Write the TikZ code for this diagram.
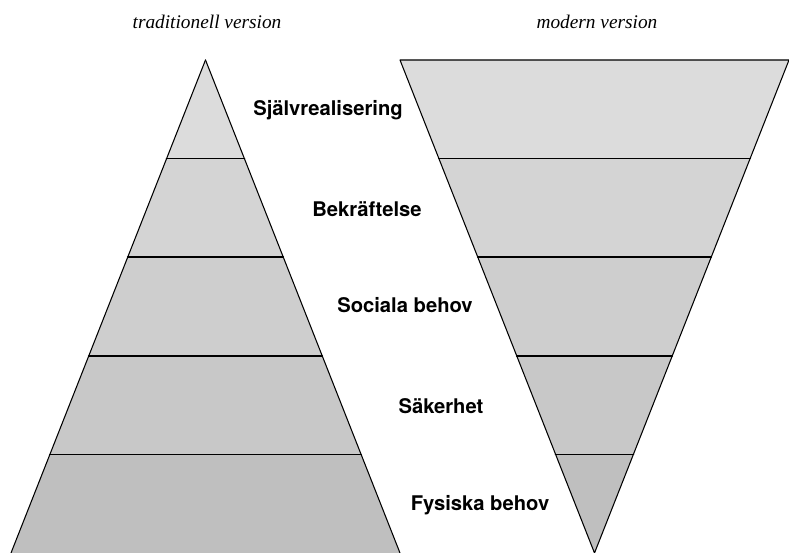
\documentclass[tikz,border=0pt]{standalone}
\usepackage{fontspec}
\usepackage{tkz-euclide}
\usepackage{tikz}
\usepackage{amsmath}
\newfontfamily\labelfont{TeX Gyre Heros}
\newfontfamily\titlefont{Liberation Serif}
\definecolor{bandA}{HTML}{BFBFBF}
\definecolor{bandB}{HTML}{C8C8C8}
\definecolor{bandC}{HTML}{CECECE}
\definecolor{bandD}{HTML}{D4D4D4}
\definecolor{bandE}{HTML}{DCDCDC}
\tikzset{behov/.style={font=\labelfont\bfseries\fontsize{11.5}{13}\selectfont},
  rubrik/.style={font=\titlefont\itshape\fontsize{11}{13}\selectfont}}

\begin{document}
\begin{tikzpicture}[scale=1, rotate=0]
    \useasboundingbox (0,0) rectangle (15.78,11.06);
    % traditionell pyramid
    \tkzDefPoints{4.11/9.86/A,0.22/0/B,8.0/0/C}
    \tkzDefPoints{0.998/1.972/B1,1.776/3.944/B2,2.554/5.916/B3,3.332/7.888/B4}
    \tkzDefPoints{7.222/1.972/C1,6.444/3.944/C2,5.666/5.916/C3,4.888/7.888/C4}
    % modern (upp och ner)
    \tkzDefPoints{8.0/9.86/D,15.78/9.86/E,11.89/0/F}
    \tkzDefPoints{11.112/1.972/D1,10.334/3.944/D2,9.556/5.916/D3,8.778/7.888/D4}
    \tkzDefPoints{12.668/1.972/E1,13.446/3.944/E2,14.224/5.916/E3,15.002/7.888/E4}
    \tkzFillPolygon[fill=bandA](B,C,C1,B1)
    \tkzFillPolygon[fill=bandB](B1,C1,C2,B2)
    \tkzFillPolygon[fill=bandC](B2,C2,C3,B3)
    \tkzFillPolygon[fill=bandD](B3,C3,C4,B4)
    \tkzFillPolygon[fill=bandE](B4,C4,A)
    \tkzFillPolygon[fill=bandE](D,E,E4,D4)
    \tkzFillPolygon[fill=bandD](D4,E4,E3,D3)
    \tkzFillPolygon[fill=bandC](D3,E3,E2,D2)
    \tkzFillPolygon[fill=bandB](D2,E2,E1,D1)
    \tkzFillPolygon[fill=bandA](D1,E1,F)
    \tkzDrawSegments[line width=0.6pt](A,B A,C)
    \tkzDrawPolygon[line width=0.6pt](D,E,F)
    \tkzDrawSegments[line width=1pt](B1,C1 B2,C2 B3,C3 B4,C4)
    \tkzDrawSegments[line width=1pt](D1,E1 D2,E2 D3,E3 D4,E4)
    % rubriker och nivaer
    \node[rubrik] (trad) at (4.14,10.62) {traditionell version};
    \node[rubrik] (mod) at (11.94,10.62) {modern version};
    \node[behov] (sjalv) at (6.56,8.86) {Självrealisering};
    \node[behov] (bekr) at (7.34,6.88) {Bekräftelse};
    \node[behov] (soc) at (8.10,4.96) {Sociala behov};
    \node[behov] (sak) at (8.82,2.94) {Säkerhet};
    \node[behov] (fys) at (9.60,0.96) {Fysiska behov};
\end{tikzpicture}
\end{document}
